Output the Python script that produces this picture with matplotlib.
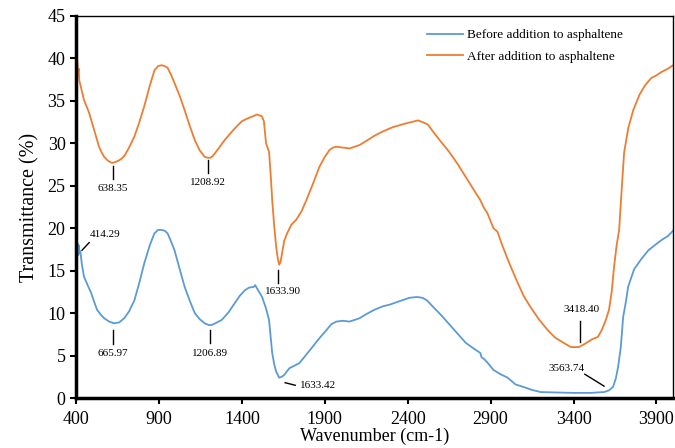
import matplotlib
matplotlib.use("Agg")
import matplotlib.pyplot as plt

plt.rcParams['font.family'] = ['Liberation Serif', 'DejaVu Serif']

# Wavenumber / transmittance readings - after addition to asphaltene
after_x = [400, 404, 408, 412, 416, 420, 430, 448, 465, 479,
           494, 509, 524, 539, 555, 570, 590, 605, 618, 638,
           660, 675, 691, 720, 752, 782, 812, 845, 873, 895,
           915, 935, 952, 970, 994, 1025, 1055, 1085, 1116, 1145,
           1176, 1195, 1210, 1225, 1260, 1297, 1350, 1400, 1420, 1442,
           1470, 1490, 1505, 1520, 1533, 1546, 1564, 1575, 1583, 1595,
           1607, 1617, 1625, 1633, 1643, 1655, 1673, 1698, 1728, 1760,
           1789, 1830, 1867, 1900, 1928, 1950, 1970, 2010, 2049, 2080,
           2110, 2152, 2200, 2250, 2310, 2380, 2440, 2462, 2490, 2522,
           2560, 2600, 2650, 2700, 2735, 2790, 2838, 2860, 2880, 2917,
           2941, 2970, 3010, 3060, 3100, 3141, 3190, 3244, 3290, 3340,
           3384, 3410, 3432, 3470, 3510, 3547, 3570, 3595, 3614, 3630,
           3644, 3660, 3675, 3690, 3705, 3730, 3760, 3797, 3830, 3869,
           3900, 3930, 3970, 4000]
after_y = [40.0, 39.0, 39.6, 38.2, 38.8, 37.4, 36.6, 35.1, 34.3, 33.6,
           32.6, 31.6, 30.6, 29.6, 28.9, 28.4, 28.0, 27.8, 27.7, 27.8,
           28.0, 28.2, 28.5, 29.5, 30.8, 32.5, 34.4, 36.8, 38.6, 39.1,
           39.2, 39.1, 38.9, 38.2, 37.1, 35.6, 33.9, 32.1, 30.4, 29.2,
           28.4, 28.3, 28.3, 28.5, 29.4, 30.4, 31.6, 32.6, 32.8, 33.0,
           33.2, 33.4, 33.3, 33.2, 32.6, 30.0, 29.0, 26.0, 23.3, 20.3,
           17.8, 16.4, 15.7, 16.0, 17.1, 18.5, 19.4, 20.4, 21.0, 22.0,
           23.3, 25.3, 27.2, 28.4, 29.2, 29.5, 29.6, 29.5, 29.4, 29.6,
           29.8, 30.3, 30.9, 31.4, 31.9, 32.3, 32.6, 32.7, 32.5, 32.2,
           31.2, 30.2, 29.0, 27.6, 26.5, 24.8, 23.3, 22.4, 21.8, 20.0,
           19.6, 18.0, 16.0, 13.7, 12.0, 10.7, 9.3, 8.0, 7.1, 6.5,
           6.0, 6.0, 6.0, 6.4, 6.9, 7.2, 8.0, 9.2, 10.4, 12.5,
           15.4, 18.0, 19.8, 24.5, 28.9, 31.8, 33.9, 35.7, 36.8, 37.7,
           38.0, 38.4, 38.8, 39.2]

# Before addition to asphaltene
before_x = [400, 403, 406, 409, 412, 416, 420, 426, 435, 448,
            470, 491, 510, 527, 550, 570, 600, 630, 660, 691,
            720, 752, 782, 812, 845, 873, 895, 915, 935, 952,
            970, 994, 1025, 1055, 1085, 1116, 1145, 1176, 1200, 1218,
            1240, 1279, 1320, 1358, 1390, 1419, 1443, 1473, 1480, 1492,
            1522, 1545, 1564, 1583, 1595, 1607, 1625, 1640, 1655, 1686,
            1746, 1780, 1825, 1870, 1910, 1940, 1970, 2010, 2049, 2080,
            2110, 2152, 2200, 2250, 2292, 2350, 2410, 2456, 2490, 2516,
            2560, 2600, 2650, 2700, 2750, 2800, 2838, 2845, 2860, 2880,
            2917, 2960, 3002, 3050, 3098, 3150, 3202, 3300, 3402, 3500,
            3584, 3614, 3638, 3655, 3669, 3685, 3699, 3717, 3729, 3766,
            3810, 3851, 3890, 3930, 3970, 4000]
before_y = [19.9, 18.8, 17.1, 18.2, 16.8, 18.0, 17.0, 17.3, 15.8, 14.3,
            13.3, 12.4, 11.3, 10.4, 9.8, 9.4, 9.0, 8.8, 8.9, 9.4,
            10.2, 11.5, 13.6, 15.9, 18.0, 19.4, 19.8, 19.8, 19.7, 19.4,
            18.6, 17.4, 15.2, 13.1, 11.5, 10.0, 9.3, 8.8, 8.6, 8.6,
            8.8, 9.2, 10.1, 11.2, 12.1, 12.7, 13.0, 13.1, 13.3, 12.9,
            11.9, 10.6, 9.2, 5.3, 4.0, 3.1, 2.4, 2.5, 2.7, 3.5,
            4.1, 4.9, 6.0, 7.1, 8.0, 8.7, 9.0, 9.1, 9.0, 9.2,
            9.4, 9.9, 10.4, 10.8, 11.0, 11.4, 11.8, 11.9, 11.8, 11.5,
            10.6, 9.8, 8.7, 7.6, 6.5, 5.8, 5.3, 4.8, 4.6, 4.2,
            3.3, 2.8, 2.4, 1.6, 1.3, 0.95, 0.7, 0.65, 0.6, 0.6,
            0.7, 0.9, 1.3, 2.3, 3.7, 6.0, 9.5, 11.5, 13.1, 15.2,
            16.4, 17.4, 18.0, 18.6, 19.1, 19.7]

x_ticks = [400, 900, 1400, 1900, 2400, 2900, 3400, 3900]
y_ticks = [0, 5, 10, 15, 20, 25, 30, 35, 40, 45]

# peak labels: text, text position, line start, line end
after_peaks = [("638.35", (624, 24.7), (624, 27.3), (624, 25.8)),
               ("1208.92", (1195, 25.4), (1195, 28.0), (1195, 26.5)),
               ("1633.90", (1650, 12.6), (1619, 15.1), (1619, 13.5)),
               ("3418.40", (3450, 10.4), (3438, 9.1), (3438, 6.6))]
before_peaks = [("414.29", (576, 19.3), (436, 17.4), (479, 18.3)),
                ("665.97", (624, 5.2), (624, 8.0), (624, 6.4)),
                ("1206.89", (1207, 5.3), (1207, 8.0), (1207, 6.5)),
                ("1633.42", (1860, 1.5), (1661, 1.8), (1722, 1.5)),
                ("3563.74", (3356, 3.5), (3468, 2.8), (3584, 1.4))]

fig = plt.figure(figsize=(6.75, 4.48), dpi=100)
ax = fig.add_axes([0.1126, 0.1116, 0.8845, 0.8527])

ax.plot(before_x, before_y, color='#5B9BD5', lw=1.3, label='Before addition to asphaltene')
ax.plot(after_x, after_y, color='#ED7D31', lw=1.3, label='After addition to asphaltene')

for txt, tpos, p0, p1 in after_peaks + before_peaks:
    ax.plot([p0[0], p1[0]], [p0[1], p1[1]], color='black', lw=1.0)
    ax.text(tpos[0], tpos[1], txt, fontsize=8, ha='center', va='center')

ax.set_xlim(400, 4000)
ax.set_ylim(0, 45)
ax.set_xticks(x_ticks)
ax.set_yticks(y_ticks)
ax.tick_params(axis='both', labelsize=13, direction='out', length=4, width=1.5)
ax.tick_params(axis='x', pad=5)
ax.spines['left'].set_linewidth(2.5)
ax.spines['bottom'].set_linewidth(2.5)
ax.spines['top'].set_linewidth(1.0)
ax.spines['right'].set_linewidth(1.0)

ax.set_xlabel('Wavenumber (cm-1)', fontsize=13, labelpad=0)
ax.set_ylabel('Transmittance (%)', fontsize=14.5, labelpad=6)

ax.legend(loc='upper left', bbox_to_anchor=(0.568, 0.997), frameon=False, fontsize=9.5,
          handlelength=2.7, handletextpad=0.3, labelspacing=0.7)

plt.savefig('out.png', dpi=100)
